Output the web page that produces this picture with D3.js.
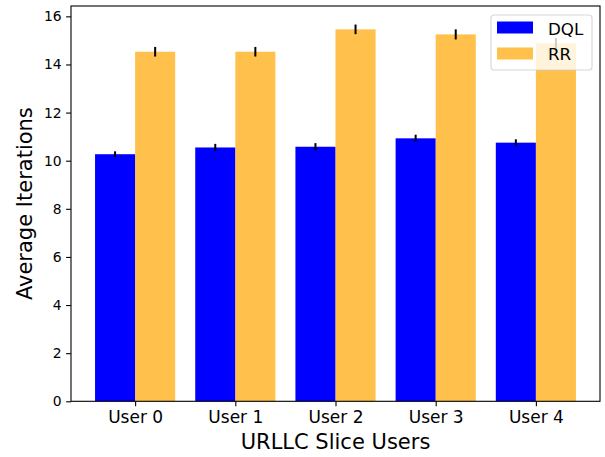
<!DOCTYPE html>
<html>
<head>
<meta charset="utf-8">
<script src="https://cdn.jsdelivr.net/npm/d3@7"></script>
<style>
  html, body { margin: 0; padding: 0; background: #fff; }
  svg { display: block; font-family: "DejaVu Sans", sans-serif; }
</style>
</head>
<body>
<svg id="chart" width="605" height="457"></svg>
<script>
// Average iterations per URLLC slice user, DQL vs round robin
const users = ["User 0", "User 1", "User 2", "User 3", "User 4"];
const dqlMean = [10.27, 10.55, 10.58, 10.93, 10.75];
const dqlErr = [0.12, 0.15, 0.15, 0.15, 0.14];
const rrMean = [14.53, 14.53, 15.46, 15.25, 14.88];
const rrErr = [0.20, 0.20, 0.20, 0.21, 0.22];
const yTicks = [0, 2, 4, 6, 8, 10, 12, 14, 16];
const seriesNames = ["DQL", "RR"];

const barWidth = 0.4;
const svg = d3.select("#chart");
const plot = { left: 71, right: 600, top: 6, bottom: 401.3 };

const x = d3.scaleLinear().domain([-0.44, 4.84]).range([plot.left, plot.right]);
const y = d3.scaleLinear().domain([0, 16.43]).range([plot.bottom, plot.top]);

const series = [
  { name: seriesNames[0], mean: dqlMean, err: dqlErr, offset: 0, fill: "#0000ff", opacity: 1 },
  { name: seriesNames[1], mean: rrMean, err: rrErr, offset: barWidth, fill: "#ffa500", opacity: 0.7 }
];

// bars
series.forEach(s => {
  svg.append("g").selectAll("rect")
    .data(s.mean)
    .join("rect")
    .attr("x", (d, i) => x(i + s.offset - barWidth / 2))
    .attr("width", (d, i) => x(i + s.offset + barWidth / 2) - x(i + s.offset - barWidth / 2))
    .attr("y", d => y(d))
    .attr("height", d => y(0) - y(d))
    .attr("fill", s.fill)
    .attr("fill-opacity", s.opacity);
});

// error bars (no caps)
series.forEach(s => {
  svg.append("g").selectAll("line")
    .data(s.mean)
    .join("line")
    .attr("x1", (d, i) => x(i + s.offset))
    .attr("x2", (d, i) => x(i + s.offset))
    .attr("y1", (d, i) => y(d - s.err[i]))
    .attr("y2", (d, i) => y(d + s.err[i]))
    .attr("stroke", "#000")
    .attr("stroke-width", 2);
});

// axes
const yAxis = d3.axisLeft(y).tickValues(yTicks).tickFormat(d3.format("d"))
  .tickSize(4.9).tickPadding(4.5);
const gy = svg.append("g").attr("transform", `translate(${plot.left},0)`).call(yAxis);
gy.select(".domain").remove();
gy.selectAll("text").attr("font-size", 13.9).attr("fill", "#000")
  .attr("font-family", "DejaVu Sans");
gy.selectAll("line").attr("stroke", "#000").attr("stroke-width", 1.1);

const xAxis = d3.axisBottom(x).tickValues(users.map((u, i) => i + barWidth / 2))
  .tickFormat((d, i) => users[i]).tickSize(4.9).tickPadding(4.5);
const gx = svg.append("g").attr("transform", `translate(0,${plot.bottom})`).call(xAxis);
gx.select(".domain").remove();
gx.selectAll("text").attr("font-size", 17).attr("fill", "#000")
  .attr("font-family", "DejaVu Sans");
gx.selectAll("line").attr("stroke", "#000").attr("stroke-width", 1.1);

// frame
svg.append("rect")
  .attr("x", plot.left).attr("y", plot.top)
  .attr("width", plot.right - plot.left).attr("height", plot.bottom - plot.top)
  .attr("fill", "none").attr("stroke", "#000").attr("stroke-width", 1.1);

// axis titles
svg.append("text")
  .attr("x", (plot.left + plot.right) / 2).attr("y", 449.3)
  .attr("text-anchor", "middle").attr("font-size", 21)
  .text("URLLC Slice Users");
svg.append("text")
  .attr("transform", `translate(31.5,${(plot.top + plot.bottom) / 2}) rotate(-90)`)
  .attr("text-anchor", "middle").attr("font-size", 21)
  .text("Average Iterations");

// legend
const lg = svg.append("g").attr("transform", "translate(491,15)");
lg.append("rect")
  .attr("width", 101).attr("height", 55).attr("rx", 3)
  .attr("fill", "#fff").attr("fill-opacity", 0.8)
  .attr("stroke", "#cccccc").attr("stroke-opacity", 0.8).attr("stroke-width", 1.1);
series.forEach((s, i) => {
  lg.append("rect")
    .attr("x", 6).attr("y", 6.5 + i * 26)
    .attr("width", 36).attr("height", 12)
    .attr("fill", s.fill).attr("fill-opacity", s.opacity);
  lg.append("text")
    .attr("x", 57).attr("y", 19.5 + i * 25.5)
    .attr("font-size", 16.7)
    .text(s.name);
});
</script>
</body>
</html>
